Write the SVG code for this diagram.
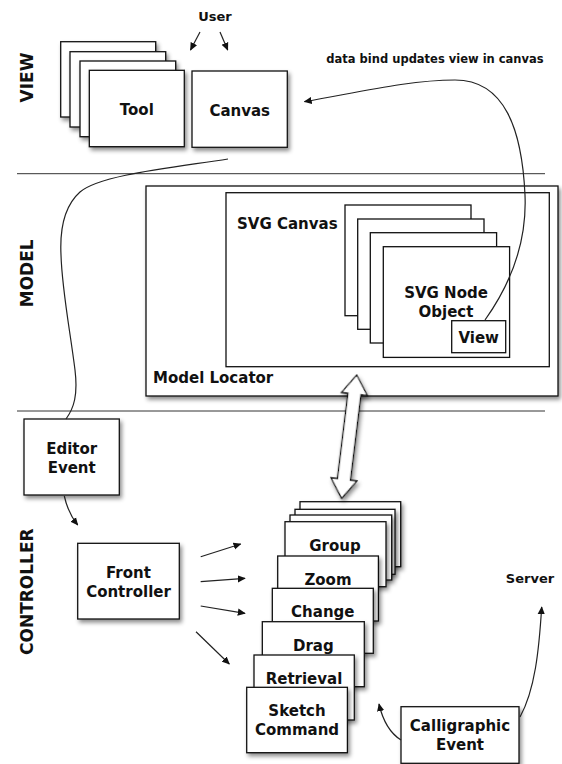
<svg xmlns="http://www.w3.org/2000/svg" width="562" height="764" viewBox="0 0 562 764">
<defs>
  <filter id="sh" x="-20%" y="-20%" width="150%" height="150%">
    <feDropShadow dx="2" dy="3" stdDeviation="2" flood-color="#000" flood-opacity="0.45"/>
  </filter>
  <marker id="ah" viewBox="0 0 10 10" refX="9" refY="5" markerWidth="8" markerHeight="8" markerUnits="userSpaceOnUse" orient="auto">
    <path d="M0,0.5 L10,5 L0,9.5 z" fill="#111"/>
  </marker>
  <style>
    .box { fill: #fff; stroke: #111; stroke-width: 1.3; }
    .sbox { fill: #fff; stroke: #111; stroke-width: 1.3; filter: url(#sh); }
    .t { font-family: "DejaVu Sans", "Liberation Sans", sans-serif; font-weight: bold; font-size: 15px; fill: #111; text-anchor: middle; }
    .tl { text-anchor: start; }
    .sec { font-family: "DejaVu Sans", "Liberation Sans", sans-serif; font-weight: bold; font-size: 17px; fill: #111; text-anchor: middle; }
    .small { font-size: 13px; }
    .lbl { font-size: 11.5px; }
    .sep { stroke: #333; stroke-width: 1; fill: none; }
    .con { stroke: #222; stroke-width: 1.2; fill: none; }
    .arr { stroke: #222; stroke-width: 1.2; fill: none; marker-end: url(#ah); }
  </style>
</defs>

<!-- section labels and separators -->
<g id="sections">
  <text class="sec" transform="translate(33,77.5) rotate(-90)">VIEW</text>
  <text class="sec" transform="translate(33,273.3) rotate(-90)">MODEL</text>
  <text class="sec" transform="translate(33,591.7) rotate(-90)">CONTROLLER</text>
  <line class="sep" x1="17" y1="173.7" x2="545" y2="173.7"/>
  <line class="sep" x1="17" y1="411" x2="545" y2="411"/>
</g>

<g id="user">
  <text class="t small" x="215" y="21">User</text>
</g>

<g id="tool">
  <rect class="sbox" x="60.7" y="41.7" width="95" height="75.3"/>
  <rect class="sbox" x="70" y="51.7" width="95.7" height="75.3"/>
  <rect class="sbox" x="80" y="61" width="95.7" height="75.7"/>
  <rect class="sbox" x="89.3" y="70.3" width="95" height="76.4"/>
  <text class="t" x="136.8" y="115">Tool</text>
</g>

<g id="canvas">
  <rect class="sbox" x="192" y="71" width="95.3" height="76.3"/>
  <text class="t" x="239.7" y="116">Canvas</text>
</g>

<g id="model-locator">
  <rect class="sbox" x="146" y="186" width="412" height="210"/>
  <text class="t tl" x="153" y="383.3">Model Locator</text>
</g>

<g id="svg-canvas">
  <rect class="box" x="226" y="192.7" width="323.3" height="174"/>
  <text class="t tl" x="237" y="229">SVG Canvas</text>
</g>

<g id="svg-node-object">
  <rect class="box" x="345" y="205" width="126" height="110.7"/>
  <rect class="box" x="357.7" y="219" width="126.3" height="110.3"/>
  <rect class="box" x="370.3" y="232.7" width="126.3" height="110.3"/>
  <rect class="box" x="383.3" y="246.7" width="126.3" height="110.7"/>
  <text class="t" x="446" y="298.3">SVG Node</text>
  <text class="t" x="446" y="317.3">Object</text>
</g>

<g id="view">
  <rect class="box" x="451.7" y="320.7" width="54" height="32"/>
  <text class="t" x="478.7" y="342.7">View</text>
</g>

<g id="editor-event">
  <rect class="sbox" x="24" y="419" width="95.3" height="76"/>
  <text class="t" x="71.7" y="454">Editor</text>
  <text class="t" x="71.7" y="472.7">Event</text>
</g>

<g id="front-controller">
  <rect class="sbox" x="77.7" y="543.3" width="101.6" height="75.7"/>
  <text class="t" x="128.5" y="578.3">Front</text>
  <text class="t" x="128.5" y="596.7">Controller</text>
</g>

<g id="commands">
  <rect class="sbox" x="300" y="501.7" width="100.7" height="65"/>
  <rect class="sbox" x="295" y="509.3" width="100" height="65"/>
  <rect class="sbox" x="290" y="515" width="101.7" height="65"/>
  <g id="group-cmd">
    <rect class="sbox" x="285" y="521.7" width="101" height="65"/>
    <text class="t" x="335" y="551">Group</text>
  </g>
  <g id="zoom-cmd">
    <rect class="sbox" x="277.7" y="556" width="100.7" height="65"/>
    <text class="t" x="328" y="585">Zoom</text>
  </g>
  <g id="change-cmd">
    <rect class="sbox" x="272.3" y="588.3" width="101" height="65"/>
    <text class="t" x="322.8" y="616.7">Change</text>
  </g>
  <g id="drag-cmd">
    <rect class="sbox" x="262.3" y="621.7" width="102" height="65"/>
    <text class="t" x="313.3" y="650.5">Drag</text>
  </g>
  <g id="retrieval-cmd">
    <rect class="sbox" x="254" y="655" width="100.3" height="65"/>
    <text class="t" x="304" y="684">Retrieval</text>
  </g>
  <g id="sketch-command">
    <rect class="sbox" x="246.7" y="687.3" width="100.7" height="65.4"/>
    <text class="t" x="297" y="716">Sketch</text>
    <text class="t" x="297" y="735">Command</text>
  </g>
</g>

<g id="calligraphic-event">
  <rect class="sbox" x="401" y="706.7" width="118" height="56.6"/>
  <text class="t" x="460" y="730.7">Calligraphic</text>
  <text class="t" x="460" y="750">Event</text>
</g>

<g id="server">
  <text class="t small" x="530" y="582.7">Server</text>
</g>

<g id="connectors">
  <path class="arr" d="M200,32 L190.5,50"/>
  <path class="arr" d="M220,32 L227.7,50"/>
  <path class="con" d="M228,159 C170,168 100,175 80,192 C62,208 60,235 61,255 C62,290 70,330 75,370 C78,395 74,408 66,419"/>
  <path class="arr" d="M485,320 C512,282 527,240 525,195 C522,130 505,80 455,80 C410,80 360,92 304.5,101.7"/>
  <text class="t lbl" x="435" y="63">data bind updates view in canvas</text>
  <path class="arr" d="M64.3,496 Q68,513 77.7,525"/>
  <path class="arr" d="M200.7,556.7 L240.7,544"/>
  <path class="arr" d="M200.7,581.7 L245,578.3"/>
  <path class="arr" d="M200.7,606 L245,613.3"/>
  <path class="arr" d="M196,631.7 L229.3,664"/>
  <path class="arr" d="M401,740 Q385,730 379,704"/>
  <path class="arr" d="M520,717 C535,690 539,650 541.7,607"/>
  <polygon class="sbox" transform="translate(349.2,436.7) rotate(7)" points="0,-62 13,-43 6.5,-43 6.5,43 13,43 0,62 -13,43 -6.5,43 -6.5,-43 -13,-43"/>
</g>
</svg>
